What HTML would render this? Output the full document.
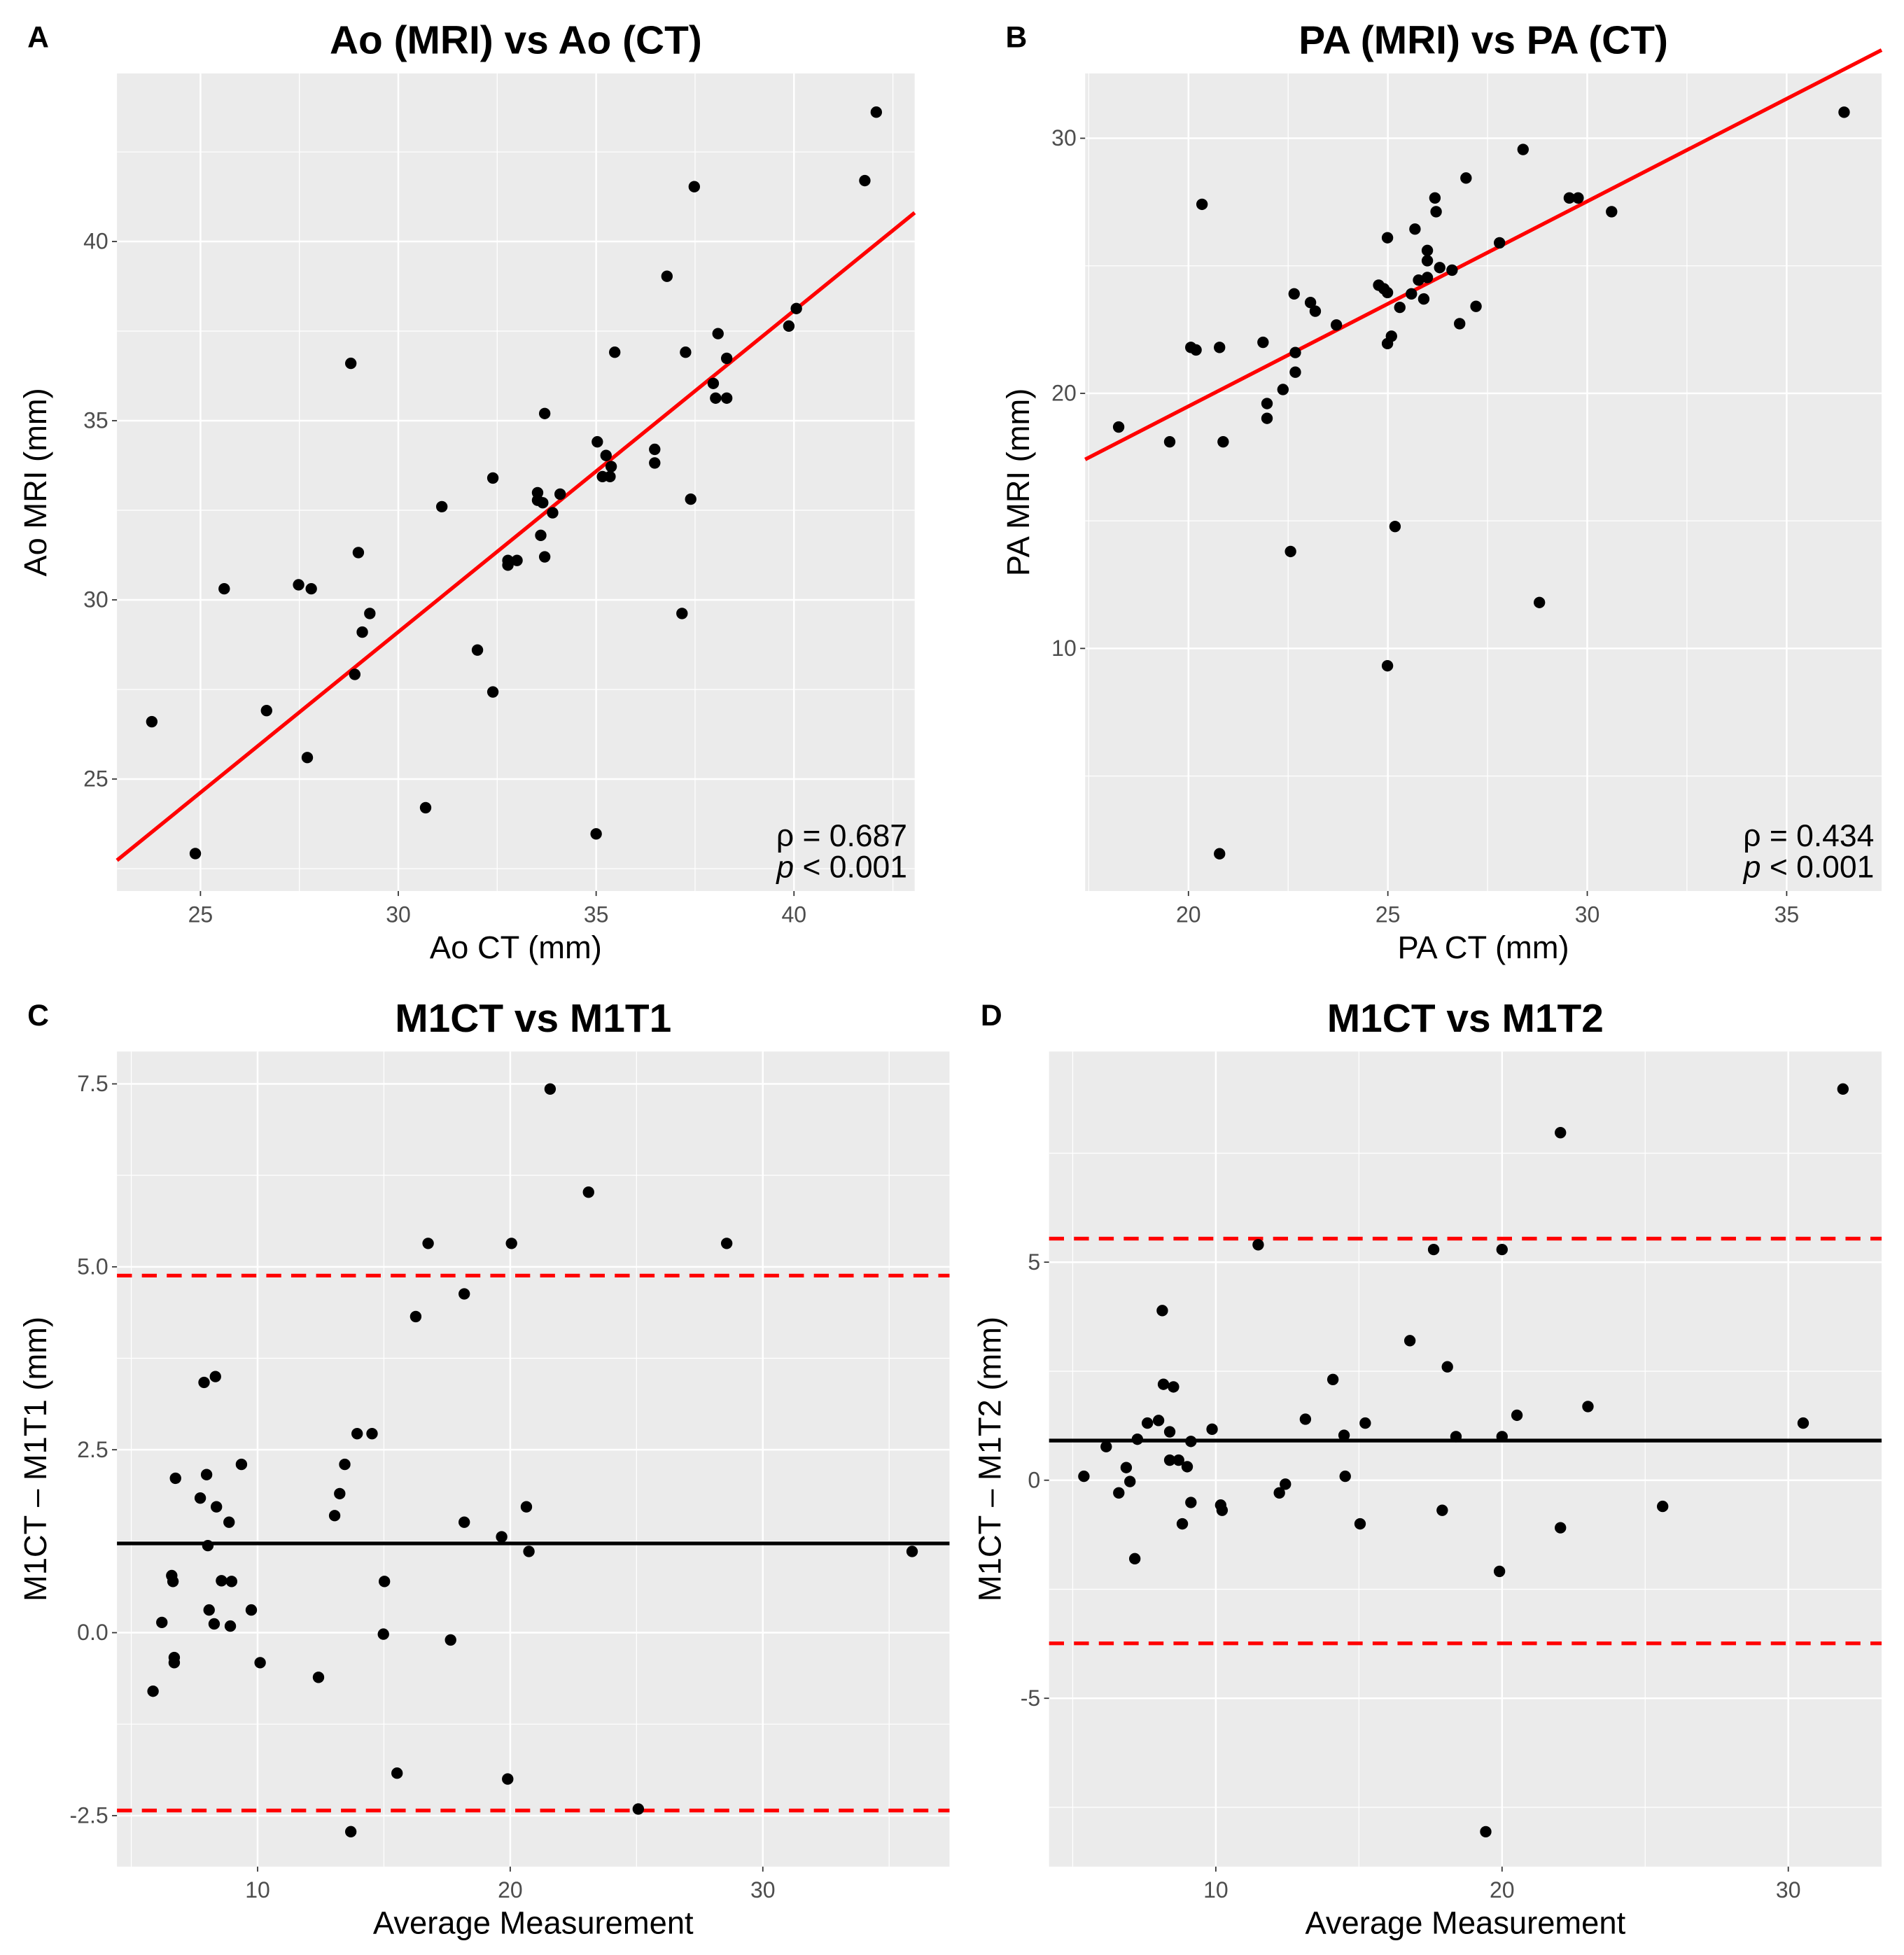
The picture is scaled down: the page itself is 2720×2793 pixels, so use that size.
<!DOCTYPE html>
<html><head><meta charset="utf-8"><style>
html,body{margin:0;padding:0;background:#fff}
svg{display:block}
text{font-family:"Liberation Sans",Arial,sans-serif}
</style></head><body>
<svg id="fig" width="2720" height="2793" viewBox="0 0 1530 1571" xmlns="http://www.w3.org/2000/svg"></svg>
<script>
// Panel A data
const aX=[23.77,24.87,25.6,26.67,27.48,27.7,27.8,28.8,28.9,28.99,29.09,29.28,30.69,31.1,32.0,32.39,32.39,32.77,32.77,33.0,33.52,33.52,33.65,33.6,33.7,33.7,33.9,34.09,35.03,35.0,35.25,35.16,35.35,35.38,35.47,36.48,36.48,36.79,37.17,37.26,37.39,37.48,37.96,38.02,38.08,38.3,38.3,39.87,40.06,41.79,42.08];
const aY=[26.6,22.92,30.31,26.91,30.42,25.6,30.31,36.6,27.92,31.32,29.1,29.62,24.2,32.6,28.6,33.4,27.43,30.97,31.1,31.1,32.99,32.78,32.71,31.8,35.2,31.2,32.43,32.95,34.41,23.47,34.03,33.44,33.44,33.72,36.91,34.2,33.82,39.03,29.62,36.91,32.81,41.53,36.04,35.63,37.43,36.74,35.63,37.64,38.13,41.7,43.61];
const aFit=[2.21,0.8965];
// Panel B data
const bX=[18.25,19.53,20.06,20.19,20.34,20.78,20.78,20.87,21.87,21.97,21.97,22.37,22.56,22.65,22.68,22.68,23.06,23.18,23.71,24.77,24.9,24.99,24.99,24.99,24.99,25.09,25.18,25.3,25.59,25.68,25.77,25.9,25.99,25.99,25.99,26.18,26.21,26.3,26.61,26.8,26.96,27.21,27.8,28.39,28.8,29.55,29.77,30.61,36.44];
const bY=[18.68,18.1,21.8,21.7,27.41,21.8,1.95,18.1,22.0,19.6,19.02,20.15,13.8,23.9,21.6,20.83,23.56,23.22,22.68,24.24,24.1,23.95,26.1,21.95,9.32,22.24,14.78,23.37,23.9,26.44,24.44,23.7,25.6,25.2,24.54,27.66,27.12,24.93,24.83,22.73,28.44,23.41,25.9,29.56,11.8,27.66,27.66,27.12,31.02];
const bFit=[3.417,0.8037];
// Panel C data
const cX=[5.86,6.21,6.6,6.65,6.7,6.7,6.75,7.73,7.88,7.98,8.03,8.08,8.28,8.33,8.37,8.57,8.87,8.92,8.97,9.36,9.75,10.1,12.41,13.05,13.25,13.45,13.69,13.94,14.53,14.98,15.02,15.52,16.26,16.75,17.64,18.18,18.18,19.66,19.9,20.05,20.64,20.74,21.58,23.1,25.07,28.57,35.91];
const cY=[-0.8,0.14,0.78,0.7,-0.34,-0.41,2.11,1.84,3.42,2.16,1.19,0.31,0.12,3.5,1.72,0.71,1.51,0.09,0.7,2.3,0.31,-0.41,-0.61,1.6,1.9,2.3,-2.72,2.72,2.72,-0.02,0.7,-1.92,4.32,5.32,-0.1,4.63,1.51,1.31,-2.0,5.32,1.72,1.11,7.43,6.02,-2.41,5.32,1.11];
const cLines=[1.22,4.88,-2.43];
// Panel D data
const dX=[5.39,6.17,6.61,6.87,7.0,7.17,7.26,7.61,8.0,8.13,8.17,8.39,8.39,8.52,8.7,8.83,9.0,9.13,9.13,9.87,10.17,10.22,11.48,12.22,12.43,13.13,14.09,14.48,14.52,15.04,15.22,16.78,17.61,17.91,18.09,18.39,19.91,20.0,20.0,19.43,20.52,22.04,22.04,23.0,25.61,30.52,31.91];
const dY=[0.09,0.77,-0.29,0.29,-0.03,-1.8,0.94,1.31,1.37,3.89,2.2,1.11,0.46,2.14,0.46,-1.0,0.31,-0.51,0.89,1.17,-0.57,-0.69,5.4,-0.29,-0.09,1.4,2.31,1.03,0.09,-1.0,1.31,3.2,5.29,-0.69,2.6,1.0,-2.09,5.29,1.0,-8.06,1.49,7.97,-1.09,1.69,-0.6,1.31,8.97];
const dLines=[0.91,5.54,-3.74];
// Tick labels
const aXt=[25,30,35,40], aYt=[25,30,35,40];
const bXt=[20,25,30,35], bYt=[10,20,30];
const cXt=[10,20,30], cYt=[-2.5,0,2.5,5,7.5], cYl=["-2.5","0.0","2.5","5.0","7.5"];
const dXt=[10,20,30], dYt=[-5,0,5];

const NS="http://www.w3.org/2000/svg";
const svg=document.getElementById('fig');
function mk(tag,attrs,parent){const e=document.createElementNS(NS,tag);for(const k in attrs)e.setAttribute(k,attrs[k]);(parent||svg).appendChild(e);return e;}

function panel(o){
  const g=mk('g',{});
  
  
  const sx=v=>o.x0+(v-o.xd[0])/(o.xd[1]-o.xd[0])*(o.x1-o.x0);
  const sy=v=>o.y1-(v-o.yd[0])/(o.yd[1]-o.yd[0])*(o.y1-o.y0);
  const bg=mk('rect',{x:o.x0,y:o.y0,width:o.x1-o.x0,height:o.y1-o.y0,fill:'#ebebeb'},g);
  
  
  o.xminor.forEach(v=>{const l=mk('line',{x1:sx(v),x2:sx(v),y1:o.y0,y2:o.y1,stroke:'#fff','stroke-width':0.7},g);});
  o.yminor.forEach(v=>{const l=mk('line',{y1:sy(v),y2:sy(v),x1:o.x0,x2:o.x1,stroke:'#fff','stroke-width':0.7},g);});
  o.xt.forEach(v=>{
    const l=mk('line',{x1:sx(v),x2:sx(v),y1:o.y0,y2:o.y1,stroke:'#fff','stroke-width':1.4},g);
    
    mk('line',{x1:sx(v),x2:sx(v),y1:o.y1,y2:o.y1+4,stroke:'#333','stroke-width':1},g);
    const t=mk('text',{x:sx(v),y:o.y1+25,'text-anchor':'middle','font-size':18,fill:'#4d4d4d'},g);t.textContent=v;
    
  });
  o.yt.forEach((v,i)=>{
    const l=mk('line',{y1:sy(v),y2:sy(v),x1:o.x0,x2:o.x1,stroke:'#fff','stroke-width':1.4},g);
    
    mk('line',{y1:sy(v),y2:sy(v),x1:o.x0-4,x2:o.x0,stroke:'#333','stroke-width':1},g);
    const t=mk('text',{x:o.x0-7,y:sy(v)+6,'text-anchor':'end','font-size':18,fill:'#4d4d4d'},g);t.textContent=o.yl?o.yl[i]:v;
    
  });
  if(o.fit){
    const l=mk('line',{x1:o.x0,y1:sy(o.fit[0]+o.fit[1]*o.xd[0]),x2:o.x1,y2:sy(o.fit[0]+o.fit[1]*o.xd[1]),stroke:'#ff0000','stroke-width':3},g);
    
  }
  if(o.lines){
    o.lines.forEach((v,i)=>{
      const l=mk('line',{x1:o.x0,x2:o.x1,y1:sy(v),y2:sy(v),stroke:i==0?'#000':'#ff0000','stroke-width':3,'stroke-dasharray':i==0?'none':'12 8'},g);
      
      
    });
  }
  o.px.forEach((v,i)=>{
    const c=mk('circle',{cx:sx(v),cy:sy(o.py[i]),r:4.6,fill:'#000'},g);
    
    
  });
  const tt=mk('text',{x:(o.x0+o.x1)/2,y:o.y0-16,'text-anchor':'middle','font-size':32,'font-weight':'bold'},g);tt.textContent=o.title;
  
  const lt=mk('text',{x:o.lx,y:o.y0-21,'font-size':24,'font-weight':'bold'},g);lt.textContent=o.letter;
  
  const xt=mk('text',{x:(o.x0+o.x1)/2,y:o.y1+54,'text-anchor':'middle','font-size':25.5},g);xt.textContent=o.xlab;
  
  const yc=(o.y0+o.y1)/2, yx=o.ylx;
  const yt=mk('text',{x:yx,y:yc,'text-anchor':'middle','font-size':25.5,transform:`rotate(-90 ${yx} ${yc})`},g);yt.textContent=o.ylab;
  
  if(o.rho){
    const r1=mk('text',{x:o.x1-6,y:o.y1-36,'text-anchor':'end','font-size':25},g);r1.textContent='ρ = '+o.rho;
    
    const r2=mk('text',{x:o.x1-6,y:o.y1-11,'text-anchor':'end','font-size':25},g);
    r2.innerHTML='<tspan font-style="italic">p</tspan> &lt; 0.001';
    
  }
}
panel({name:'panel-a',x0:94,x1:735,y0:59,y1:716,xd:[22.89,43.05],yd:[21.875,44.69],xt:aXt,yt:aYt,xminor:[22.5,27.5,32.5,37.5,42.5],yminor:[22.5,27.5,32.5,37.5,42.5],px:aX,py:aY,fit:aFit,title:'Ao (MRI) vs Ao (CT)',letter:'A',lx:22,xlab:'Ao CT (mm)',ylab:'Ao MRI (mm)',ylx:37,rho:'0.687'});
panel({name:'panel-b',x0:872,x1:1512,y0:59,y1:716,xd:[17.41,37.38],yd:[0.49,32.54],xt:bXt,yt:bYt,xminor:[17.5,22.5,27.5,32.5,37.5],yminor:[5,15,25],px:bX,py:bY,fit:bFit,title:'PA (MRI) vs PA (CT)',letter:'B',lx:808,xlab:'PA CT (mm)',ylab:'PA MRI (mm)',ylx:827,rho:'0.434'});
panel({name:'panel-c',x0:94,x1:763,y0:845,y1:1500,xd:[4.433,37.39],yd:[-3.197,7.942],xt:cXt,yt:cYt,yl:cYl,xminor:[5,15,25,35],yminor:[-1.25,1.25,3.75,6.25],px:cX,py:cY,lines:cLines,title:'M1CT vs M1T1',letter:'C',lx:22,xlab:'Average Measurement',ylab:'M1CT \u2013 M1T1 (mm)',ylx:37});
panel({name:'panel-d',x0:843,x1:1512,y0:845,y1:1500,xd:[4.174,33.26],yd:[-8.86,9.83],xt:dXt,yt:dYt,xminor:[5,15,25],yminor:[-7.5,-2.5,2.5,7.5],px:dX,py:dY,lines:dLines,title:'M1CT vs M1T2',letter:'D',lx:788,xlab:'Average Measurement',ylab:'M1CT \u2013 M1T2 (mm)',ylx:804});
</script>
</body></html>
